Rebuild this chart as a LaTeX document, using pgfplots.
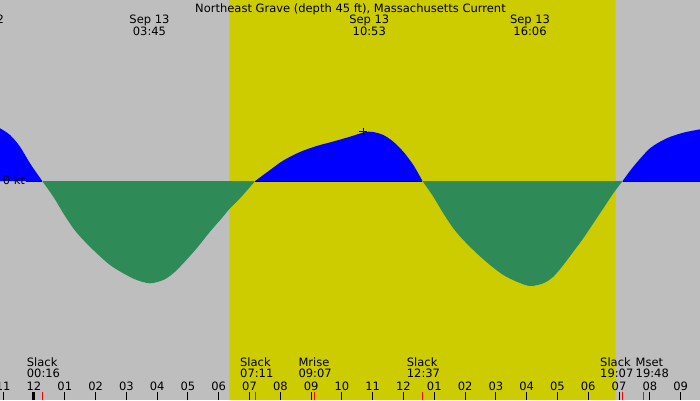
\documentclass[border=0pt]{standalone}
\usepackage{fontspec}
\setmainfont{DejaVu Sans}
\usepackage{pgfplots}
\pgfplotsset{compat=1.18}

\definecolor{nightgray}{RGB}{190,190,190}
\definecolor{dayyellow}{RGB}{204,204,0}
\definecolor{floodblue}{RGB}{0,0,255}
\definecolor{ebbgreen}{RGB}{46,139,87}

% x: hours from midnight Sep 13, y: current (pixel-scaled, flood > 0)
\newcommand{\evt}[3]{%
  \node[anchor=base west, inner sep=0pt] at (axis cs:#1,-185.7) {#2};
  \node[anchor=base west, inner sep=0pt] at (axis cs:#1,-196.7) {#3};}
\newcommand{\toplbl}[3]{%
  \node[anchor=base, inner sep=0pt] at (axis cs:#1,157) {#2};
  \node[anchor=base, inner sep=0pt] at (axis cs:#1,145) {#3};}

\begin{document}
\fontsize{11.5}{13}\selectfont
\begin{tikzpicture}
\begin{axis}[
  name=ax,
  width=700pt, height=400pt, scale only axis,
  xmin=-1.104, xmax=21.63, ymin=-219, ymax=181,
  axis line style={draw=none},
  axis background/.style={fill=nightgray},
  axis on top,
  ytick=\empty,
  xtick={-1,0,...,21},
  xticklabels={11,12,01,02,03,04,05,06,07,08,09,10,11,12,01,02,03,04,05,06,07,08,09},
  xtick pos=lower, tick align=inside,
  major tick length=8pt,
  major tick style={black, line width=1pt},
  minor xtick={0}, minor tick length=8pt,
  minor tick style={black, line width=3pt},
  extra x ticks={0.267,7.183,9.117,12.617,19.117,19.8},
  extra x tick labels={},
  extra x tick style={major tick style={red, line width=1pt}},
  xticklabel style={anchor=base, yshift=10pt, inner sep=0pt, font=\fontsize{11.5}{13}\selectfont},
  /pgf/number format/assume math mode=true,
  clip=true,
]
% daylight
\addplot[draw=none, fill=dayyellow] coordinates
  {(6.343,-219) (6.343,181) (18.89,181) (18.89,-219) (6.343,-219)};

% flood
\addplot[draw=none, fill=floodblue, smooth] coordinates
  {(-1.3,55) (-1.104,52.7) (-0.779,46) (-0.455,34.3) (-0.130,17.7) (0.267,0)} \closedcycle;
\addplot[draw=none, fill=floodblue, smooth] coordinates
  {(7.183,0) (7.665,11) (8.097,20.5) (8.639,29) (9.182,35) (9.721,39.5) (10.263,44.3)
   (10.695,48.5) (10.88,49.3) (11.020,49) (11.345,46) (11.669,39.3) (11.994,29.3)
   (12.319,16) (12.617,0)} \closedcycle;
\addplot[draw=none, fill=floodblue, smooth] coordinates
  {(19.117,0) (19.464,14.3) (20.006,32.7) (20.549,42.7) (21.088,48.3) (21.63,51.7) (21.9,53.5)} \closedcycle;

% zero line
\addplot[black, line width=1pt] coordinates {(-0.26,0) (0.267,0)};
\addplot[black, line width=1pt] coordinates {(7.183,0) (12.617,0)};
\addplot[black, line width=1pt] coordinates {(19.117,0) (21.9,0)};

% ebb
\addplot[draw=none, fill=ebbgreen, smooth] coordinates
  {(0.267,0) (0.627,-15.7) (0.952,-32.3) (1.276,-47.3) (1.601,-59) (2.036,-72.3)
   (2.468,-84) (2.900,-92.3) (3.335,-99) (3.767,-102.3) (4.199,-99) (4.524,-92.3)
   (4.849,-82.3) (5.284,-67.3) (5.716,-50.7) (6.096,-37.3) (6.366,-27.3) (6.691,-17.3)
   (7.183,0)} \closedcycle;
\addplot[draw=none, fill=ebbgreen, smooth] coordinates
  {(12.617,0) (12.968,-15.7) (13.293,-32.3) (13.618,-47.3) (13.943,-59) (14.378,-72.3)
   (14.810,-84) (15.242,-94) (15.677,-100.7) (16.109,-105) (16.541,-102.3) (16.866,-95.7)
   (17.191,-84) (17.515,-70.7) (17.840,-57.3) (18.165,-42.3) (18.490,-27.3) (18.815,-12.3)
   (19.117,0)} \closedcycle;

% peak marker
\addplot[only marks, mark=+, mark size=4pt, black, line width=0.8pt] coordinates {(10.70,49.3)};

% labels
\node[anchor=base, inner sep=0pt] at (axis cs:10.279,168.5) {Northeast Grave (depth 45 ft), Massachusetts Current};
\node[anchor=base, inner sep=0pt] at (axis cs:-1.624,157) {Sep 12};
\toplbl{3.75}{Sep 13}{03:45}
\toplbl{10.89}{Sep 13}{10:53}
\toplbl{16.11}{Sep 13}{16:06}
\node[anchor=base west, inner sep=0pt] at (axis cs:-1.017,-3) {0 kt};
\evt{-0.237}{Slack}{00:16}
\evt{6.690}{Slack}{07:11}
\evt{8.584}{Mrise}{09:07}
\evt{12.105}{Slack}{12:37}
\evt{18.383}{Slack}{19:07}
\evt{19.536}{Mset}{19:48}
\end{axis}
\pgfresetboundingbox
\useasboundingbox (ax.south west) rectangle (ax.north east);
\end{tikzpicture}
\end{document}
